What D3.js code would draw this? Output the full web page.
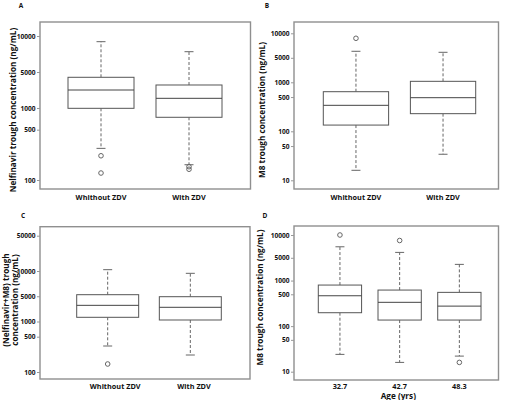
<!DOCTYPE html>
<html><head><meta charset="utf-8">
<script src="https://cdn.jsdelivr.net/npm/d3@7"></script>
<style>body{margin:0;background:#fff}text{font-family:"Open Sans",sans-serif;font-weight:700;fill:#111}</style>
</head><body><svg id="c" width="505" height="400"></svg>
<script>
// ---- data ----
const zdvGroups = ["Whithout ZDV", "With ZDV"];
const ageGroups = ["32.7", "42.7", "48.3"];
// five-number summaries: [lower whisker, Q1, median, Q3, upper whisker]
const nelfinavirBoxes = [[275, 990, 1778, 2670, 8340], [163, 743, 1363, 2087, 6053]];
const nelfinavirOutliers = [[217, 125], [153, 141]];
const m8Boxes = [[16, 134, 339, 643, 4295], [34, 229, 485, 1047, 4095]];
const m8Outliers = [[7907], []];
const totalBoxes = [[327, 1211, 2089, 3395, 10620], [217, 1071, 1910, 3098, 8995]];
const totalOutliers = [[144], []];
const ageBoxes = [[24, 197, 464, 797, 5510], [16, 136, 333, 619, 4150], [22, 136, 275, 551, 2265]];
const ageOutliers = [[10000], [7570], [16]];
const ticksA = [100, 500, 1000, 3162, 10000];
const labelsA = ["100", "500", "1000", "5000", "10000"];
const ticksB = [10, 50, 100, 500, 1000, 3162, 10000];
const labelsB = ["10", "50", "100", "500", "1000", "5000", "10000"];
const ticksC = [100, 500, 1000, 3162, 10000, 50000];
const labelsC = ["100", "500", "1000", "5000", "10000", "50000"];

const svg = d3.select("#c");

function panel(o) {
  const g = svg.append("g");
  const y = d3.scaleLog().domain(o.domain).range(o.yRange);
  const x = d3.scaleBand().domain(o.cats).range(o.xRange).paddingInner(o.pad).paddingOuter(0);
  g.append("rect").attr("x", o.frame[0]).attr("y", o.frame[1])
    .attr("width", o.frame[2] - o.frame[0]).attr("height", o.frame[3] - o.frame[1])
    .attr("fill", "none").attr("stroke", "#8f8f8f").attr("stroke-width", 1.4);
  const ax = g.append("g").attr("transform", `translate(${o.frame[0]},0)`)
    .call(d3.axisLeft(y).tickValues(o.ticks).tickFormat((d, i) => o.labels[i]).tickSize(3).tickPadding(1.5));
  ax.select(".domain").remove();
  ax.selectAll("line").attr("stroke", "#999");
  ax.selectAll("text").style("font-size", "6.6px").style("font-family", "'Open Sans',sans-serif")
    .style("font-weight", "700").attr("fill", "#111");
  const bw = x.bandwidth();
  o.boxes.forEach((b, i) => {
    const cx = x(o.cats[i]) + bw / 2, x0 = x(o.cats[i]);
    const bg = g.append("g");
    bg.append("line").attr("x1", cx).attr("x2", cx).attr("y1", y(b[3])).attr("y2", y(b[4]))
      .attr("stroke", "#666").attr("stroke-dasharray", "3,2");
    bg.append("line").attr("x1", cx).attr("x2", cx).attr("y1", y(b[1])).attr("y2", y(b[0]))
      .attr("stroke", "#666").attr("stroke-dasharray", "3,2");
    [b[0], b[4]].forEach(v => bg.append("line").attr("x1", cx - 4.5).attr("x2", cx + 4.5)
      .attr("y1", y(v)).attr("y2", y(v)).attr("stroke", "#666"));
    bg.append("rect").attr("x", x0).attr("width", bw).attr("y", y(b[3])).attr("height", y(b[1]) - y(b[3]))
      .attr("fill", "#fff").attr("stroke", "#555");
    bg.append("line").attr("x1", x0).attr("x2", x0 + bw).attr("y1", y(b[2])).attr("y2", y(b[2])).attr("stroke", "#444");
    o.outliers[i].forEach(v => bg.append("circle").attr("cx", cx).attr("cy", y(v)).attr("r", 2.3)
      .attr("fill", "none").attr("stroke", "#666"));
  });
  o.cats.forEach((c, i) => g.append("text").attr("x", x(c) + bw / 2 + (o.labDx ? o.labDx[i] : 0)).attr("y", o.labY)
    .attr("text-anchor", "middle").style("font-size", "7.3px").text(c));
  o.title.forEach((t, i) => g.append("text")
    .attr("transform", `translate(${o.titleX[i]},${o.titleY}) rotate(-90)`)
    .attr("text-anchor", "middle").style("font-size", "8.2px").text(t));
  g.append("text").attr("x", o.letter[0]).attr("y", o.letter[1]).attr("text-anchor", "middle")
    .style("font-size", "6.5px").text(o.letter[2]);
  if (o.xTitle) g.append("text").attr("x", o.xTitle[0]).attr("y", o.xTitle[1]).attr("text-anchor", "middle")
    .style("font-size", "8.2px").text(o.xTitle[2]);
}

panel({domain: [100, 10000], yRange: [180, 36], cats: zdvGroups, xRange: [68, 222], pad: 0.25,
  frame: [40, 22, 250.5, 189], ticks: ticksA, labels: labelsA, boxes: nelfinavirBoxes, outliers: nelfinavirOutliers,
  labY: 199.5, title: ["Nelfinavir trough concentration (ng/mL)"], titleX: [16], titleY: 110, letter: [21, 8, "A"]});
panel({domain: [10, 10000], yRange: [180.3, 33.3], cats: zdvGroups, xRange: [323.3, 475.7], pad: 0.25,
  frame: [294, 22, 498.5, 189], ticks: ticksB, labels: labelsB, boxes: m8Boxes, outliers: m8Outliers,
  labY: 199.5, title: ["M8 trough concentration (ng/mL)"], titleX: [265], titleY: 110, letter: [267, 8, "B"]});
panel({domain: [100, 10000], yRange: [372, 271], cats: zdvGroups, xRange: [76.7, 221.3], pad: 0.25,
  frame: [40, 226.7, 250, 379], ticks: ticksC, labels: labelsC, boxes: totalBoxes, outliers: totalOutliers,
  labY: 388.5, labDx: [7.5, 3.7], title: ["(Nelfinavir+M8) trough", "concentration (ng/mL)"], titleX: [9, 18], titleY: 300,
  letter: [23, 218, "C"]});
panel({domain: [10, 10000], yRange: [371.7, 235], cats: ageGroups, xRange: [318.3, 481], pad: 0.275,
  frame: [294, 226, 498.5, 380], ticks: ticksB, labels: labelsB, boxes: ageBoxes, outliers: ageOutliers,
  labY: 389, title: ["M8 trough concentration (ng/mL)"], titleX: [263], titleY: 297.5, letter: [265, 218, "D"],
  xTitle: [398.3, 398.5, "Age (yrs)"]});
</script></body></html>
